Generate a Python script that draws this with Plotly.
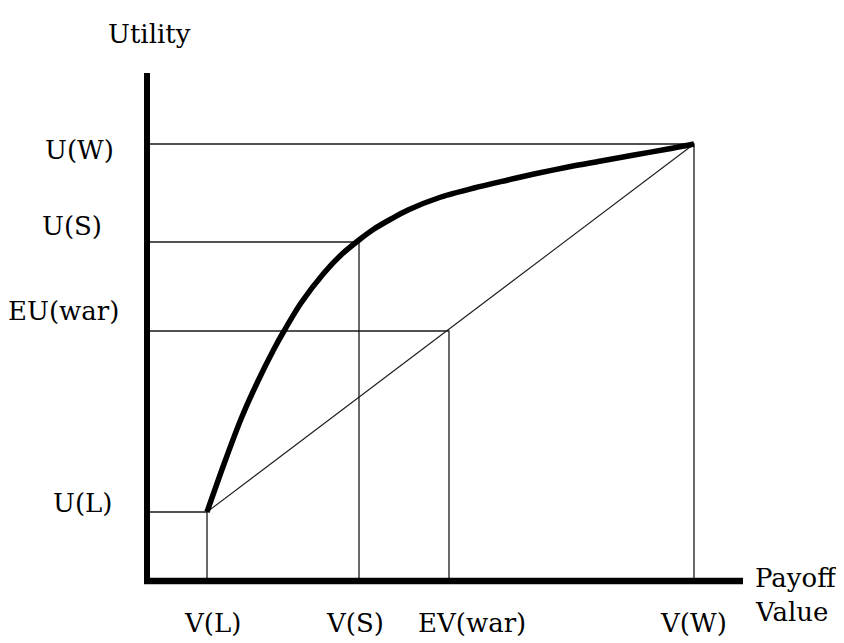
import plotly.graph_objects as go

# ---- data (arbitrary payoff / utility units) ----
x_labels = ["V(L)", "V(S)", "EV(war)", "V(W)"]
x_values = [60, 212, 302, 547]
y_labels = ["U(L)", "U(S)", "EU(war)", "U(W)"]
y_values = [69, 339, 250, 437]

curve_x = [60, 77, 94, 111, 127, 137, 154, 177, 194, 212, 227, 244, 261, 294,
           327, 361, 387, 421, 454, 487, 521, 547]
curve_y = [69, 117, 162, 200, 232, 250, 278, 308, 326, 341, 352, 362, 371, 384,
           393, 401, 407, 414, 420, 426, 432, 437]

axis_x_end = 596
axis_y_end = 508

# ---- layout / style settings ----
FONT = "DejaVu Serif"
FS = 26
thin = dict(color="#1a1a1a", width=1.3)

fig = go.Figure()

# reference lines (horizontal to the utility axis, vertical to the payoff axis)
for v, u in zip(x_values, y_values):
    fig.add_trace(go.Scatter(x=[0, v, v], y=[u, u, 0], mode="lines",
                             line=thin, hoverinfo="skip", showlegend=False))

# diagonal: expected utility of the war lottery
fig.add_trace(go.Scatter(x=[x_values[0], x_values[3]], y=[y_values[0], y_values[3]],
                         mode="lines", line=dict(color="#1a1a1a", width=1.1),
                         hoverinfo="skip", showlegend=False))

# concave utility curve
fig.add_trace(go.Scatter(x=curve_x, y=curve_y, mode="lines",
                         line=dict(color="black", width=5.5, shape="spline", smoothing=0.8),
                         hoverinfo="skip", showlegend=False))

# thick axes
fig.add_trace(go.Scatter(x=[-3, axis_x_end], y=[0, 0], mode="lines",
                         line=dict(color="black", width=6.5), hoverinfo="skip", showlegend=False))
fig.add_trace(go.Scatter(x=[0, 0], y=[-3, axis_y_end], mode="lines",
                         line=dict(color="black", width=6), hoverinfo="skip", showlegend=False))

annotations = []
# y labels
y_xshift = [-33, -43, -26, -31]
y_yshift = [9, 16, 20, -6]
for lab, val, xs, ys in zip(y_labels, y_values, y_xshift, y_yshift):
    annotations.append(dict(x=0, y=val, text=lab, showarrow=False, xanchor="right",
                            yanchor="middle", xshift=xs, yshift=ys,
                            font=dict(family=FONT, size=FS, color="black")))
# x labels
x_xshift = [5, -4, 23, -1]
for lab, val, xs in zip(x_labels, x_values, x_xshift):
    annotations.append(dict(x=val, y=0, text=lab, showarrow=False, xanchor="center",
                            yanchor="middle", xshift=xs, yshift=-42,
                            font=dict(family=FONT, size=FS, color="black")))
# axis titles
annotations.append(dict(x=0, y=axis_y_end, text="Utility", showarrow=False,
                        xanchor="center", yanchor="middle", xshift=2, yshift=39,
                        font=dict(family=FONT, size=FS, color="black")))
annotations.append(dict(x=axis_x_end, y=0, text="Payoff", showarrow=False,
                        xanchor="left", yanchor="middle", xshift=10, yshift=3,
                        font=dict(family=FONT, size=FS, color="black")))
annotations.append(dict(x=axis_x_end, y=0, text="Value", showarrow=False,
                        xanchor="left", yanchor="middle", xshift=10, yshift=-31,
                        font=dict(family=FONT, size=FS, color="black")))

fig.update_layout(
    width=844, height=643, autosize=False,
    margin=dict(l=93, r=51, t=32, b=48),
    paper_bgcolor="white", plot_bgcolor="white",
    xaxis=dict(range=[-46, 654], visible=False, fixedrange=True),
    yaxis=dict(range=[-22, 541], visible=False, fixedrange=True),
    annotations=annotations,
    showlegend=False,
)

fig.write_html("out.html")
